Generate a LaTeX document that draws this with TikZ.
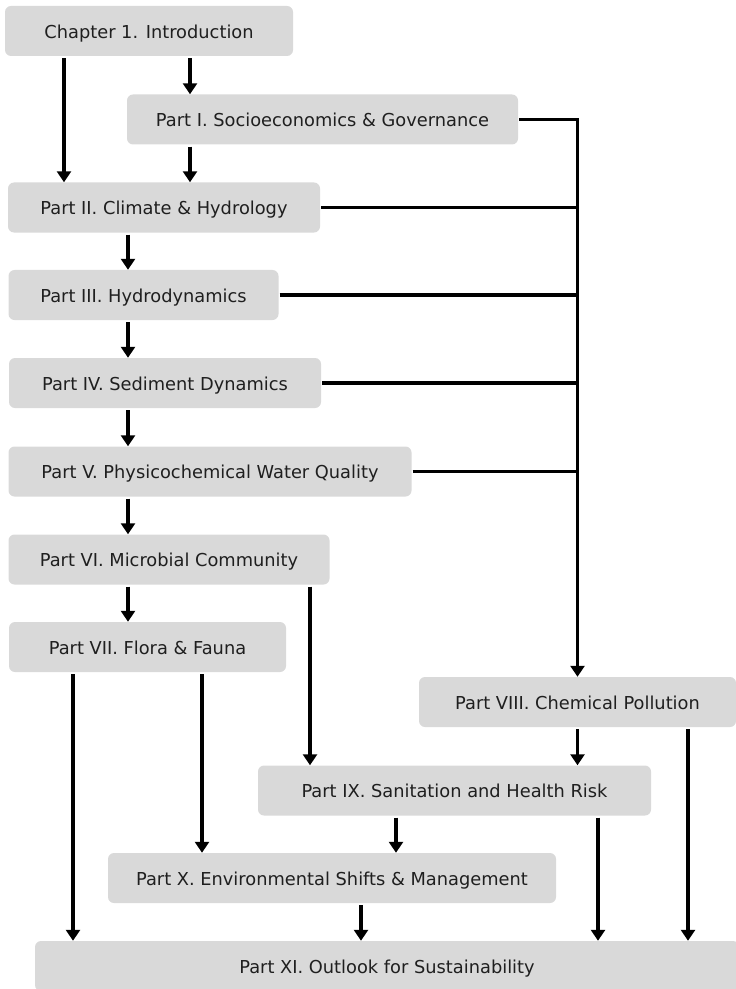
\documentclass[tikz,border=0pt]{standalone}
\usepackage{fontspec}
\setmainfont{DejaVu Sans}
\usetikzlibrary{arrows.meta}
\definecolor{boxgray}{HTML}{D9D9D9}
\definecolor{textgray}{HTML}{1F1F1F}

\begin{document}
\begin{tikzpicture}[x=0.03cm,y=-0.03cm,
  part/.style={rectangle,rounded corners=0.18cm,fill=boxgray,text=textgray,inner sep=0pt,
    font=\fontsize{15.2}{18}\selectfont,minimum height=1.5cm,text height=12.5pt,text depth=0pt},
  wide/.style={minimum width=#1*0.03cm},
  link/.style={line width=0.105cm,-{Triangle[width=0.42cm,length=0.33cm]},shorten <=0.06cm},
  bus/.style={line width=0.105cm}]

  \useasboundingbox (0,0) rectangle (736,989);

  \node[part,wide=288] (ch1) at (149,31) {Chapter 1. Introduction};
  \node[part,wide=391] (p1) at (322.5,119.5) {Part I. Socioeconomics \& Governance};
  \node[part,wide=312] (p2) at (164,207.5) {Part II. Climate \& Hydrology};
  \node[part,wide=270] (p3) at (143.5,295) {Part III. Hydrodynamics};
  \node[part,wide=312] (p4) at (165,383) {Part IV. Sediment Dynamics};
  \node[part,wide=403] (p5) at (210,471.5) {Part V. Physicochemical Water Quality};
  \node[part,wide=321] (p6) at (169,559.5) {Part VI. Microbial Community};
  \node[part,wide=277] (p7) at (147.5,647) {Part VII. Flora \& Fauna};
  \node[part,wide=317] (p8) at (577.5,702) {Part VIII. Chemical Pollution};
  \node[part,wide=393] (p9) at (454.5,790.5) {Part IX. Sanitation and Health Risk};
  \node[part,wide=448] (p10) at (332,878) {Part X. Environmental Shifts \& Management};
  \node[part,wide=704] (p11) at (387,966) {Part XI. Outlook for Sustainability};

  % x positions of the vertical arrows
  \coordinate (xa) at (64,0);
  \coordinate (xb) at (190,0);
  \coordinate (xc) at (128,0);
  \coordinate (xd) at (310,0);
  \coordinate (xe) at (73,0);
  \coordinate (xf) at (202,0);
  \coordinate (xh) at (688,0);
  \coordinate (xi) at (396,0);
  \coordinate (xj) at (598,0);
  \coordinate (xk) at (361,0);

  % collector line into part VIII
  \draw[link,shorten <=0.03cm] (p1.east) -| (p8.north);
  \foreach \n in {p2,p3,p4,p5}
    \draw[bus,shorten <=0.03cm] (\n.east) -- (\n.east -| p8.north);

  \foreach \a/\b in {p2/p3,p3/p4,p4/p5,p5/p6,p6/p7}
    \draw[link] (\a.south -| xc) -- (\b.north -| xc);

  \path[link]
   (ch1.south -| xa) edge (p2.north -| xa)
   (ch1.south -| xb) edge (p1.north -| xb)
   (p1.south -| xb) edge (p2.north -| xb)
   (p6.south -| xd) edge (p9.north -| xd)
   (p7.south -| xe) edge (p11.north -| xe)
   (p7.south -| xf) edge (p10.north -| xf)
   (p8.south) edge (p9.north -| p8.south)
   (p8.south -| xh) edge (p11.north -| xh)
   (p9.south -| xi) edge (p10.north -| xi)
   (p9.south -| xj) edge (p11.north -| xj)
   (p10.south -| xk) edge (p11.north -| xk);
\end{tikzpicture}
\end{document}
